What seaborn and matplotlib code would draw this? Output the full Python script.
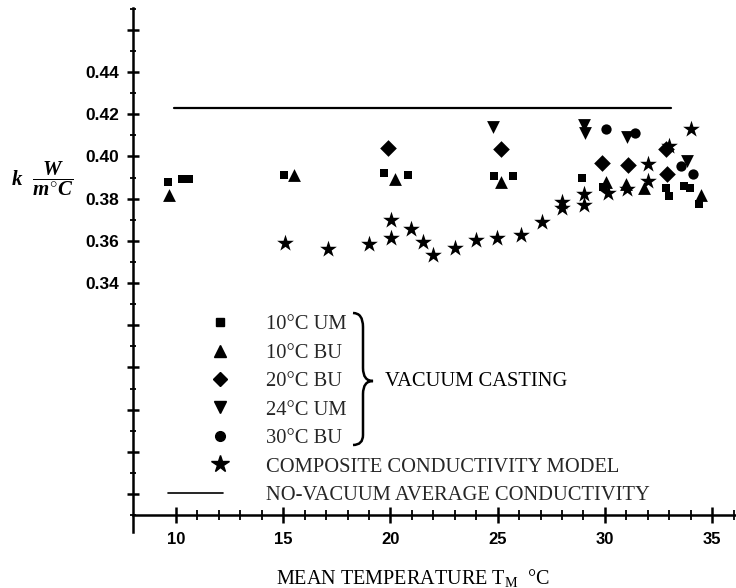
import numpy as np
import pandas as pd
import matplotlib
matplotlib.use("Agg")
import matplotlib.pyplot as plt
import seaborn as sns
from matplotlib.lines import Line2D
from matplotlib.legend_handler import HandlerLine2D
from matplotlib.path import Path
from matplotlib.patches import PathPatch
from matplotlib.ticker import FixedLocator, FuncFormatter

# ---------------- data ----------------
um10_T = [9.64, 10.3, 10.6, 15.05, 19.68, 20.8, 24.84, 25.72, 28.93, 29.89, 32.85, 33.0, 33.7, 33.95, 34.4]
um10_k = [0.3877, 0.3893, 0.3893, 0.3912, 0.3923, 0.3912, 0.3909, 0.3909, 0.3899, 0.3856, 0.3850, 0.3812, 0.3862, 0.3850, 0.3774]

bu10_T = [9.66, 15.5, 20.21, 25.15, 30.05, 31.0, 31.83, 34.48]
bu10_k = [0.3815, 0.3910, 0.3893, 0.3880, 0.3878, 0.3870, 0.3849, 0.3817]

bu20_T = [19.91, 25.15, 29.85, 31.1, 32.85, 32.9]
bu20_k = [0.4041, 0.4035, 0.3970, 0.3960, 0.4035, 0.3917]

um24_T = [24.76, 29.02, 29.05, 31.05, 33.85]
um24_k = [0.4141, 0.4147, 0.4110, 0.4090, 0.3980]

bu30_T = [30.05, 31.4, 33.55, 34.1]
bu30_k = [0.4130, 0.4110, 0.3955, 0.3917]

model_T = [15.1, 17.07, 19.01, 20.05, 20.02, 20.98, 21.5, 22.0, 23.0, 23.99, 24.99, 26.08,
           27.09, 28.02, 28.02, 29.04, 29.04, 30.15, 31.05, 32.0, 32.03, 33.0, 34.0]
model_k = [0.3588, 0.3560, 0.3585, 0.3699, 0.3612, 0.3655, 0.3596, 0.3533, 0.3564, 0.3604, 0.3612, 0.3627,
           0.3691, 0.3785, 0.3754, 0.3822, 0.3770, 0.3825, 0.3845, 0.3884, 0.3963, 0.4050, 0.4128]

novac_T = [9.93, 33.1]
novac_k = [0.4228, 0.4228]

labels = ["10°C UM", "10°C BU", "20°C BU", "24°C UM", "30°C BU",
          "COMPOSITE CONDUCTIVITY MODEL", "NO-VACUUM AVERAGE CONDUCTIVITY"]

x_major = [10, 15, 20, 25, 30, 35]
x_minor = list(range(10, 37))
y_major = [0.24, 0.26, 0.28, 0.30, 0.32, 0.34, 0.36, 0.38, 0.40, 0.42, 0.44, 0.46]
y_minor = [round(0.23 + 0.01 * i, 2) for i in range(25)]
y_labeled = [0.34, 0.36, 0.38, 0.40, 0.42, 0.44]

# ---------------- style ----------------
sns.set_theme(style="white")
plt.rcParams.update({
    "font.family": ["Liberation Serif", "DejaVu Serif"],
    "mathtext.fontset": "custom",
    "mathtext.rm": "Liberation Serif",
    "mathtext.it": "Liberation Serif:italic:bold",
    "mathtext.bf": "Liberation Serif:bold",
    "xtick.bottom": True, "ytick.left": True,
    "xtick.direction": "inout", "ytick.direction": "inout",
    "xtick.major.size": 12, "xtick.minor.size": 7,
    "ytick.major.size": 8, "ytick.minor.size": 5,
    "xtick.major.width": 1.8, "xtick.minor.width": 1.3,
    "ytick.major.width": 1.8, "ytick.minor.width": 1.3,
    "xtick.color": "black", "ytick.color": "black",
    "axes.axisbelow": False,
})

W, H = 736, 588
fig = plt.figure(figsize=(W / 100, H / 100), dpi=100)
fig.patch.set_facecolor("white")

xl = (8.0, 36.1)
yl = (0.222, 0.4705)
px_x = 21.45
px_y = 2110.0
left_px = 133
bottom_px = 532
ax = fig.add_axes([left_px / W, (H - bottom_px) / H,
                   (xl[1] - xl[0]) * px_x / W, (yl[1] - yl[0]) * px_y / H])
ax.set_facecolor("none")

series = [
    (um10_T, um10_k, "s", 38),
    (bu10_T, bu10_k, "^", 85),
    (bu20_T, bu20_k, "D", 72),
    (um24_T, um24_k, "v", 85),
    (bu30_T, bu30_k, "o", 55),
    (model_T, model_k, "*", 160),
]
for T, k, m, s in series:
    df = pd.DataFrame({"T": T, "k": k})
    sns.scatterplot(data=df, x="T", y="k", marker=m, s=s, color="black",
                    linewidth=0, ax=ax, legend=False, zorder=3)

sns.lineplot(x=novac_T, y=novac_k, color="black", linewidth=1.6, ax=ax,
             legend=False, zorder=2)

ax.set_xlim(*xl)
ax.set_ylim(*yl)

for sp in ["top", "right"]:
    ax.spines[sp].set_visible(False)
for sp in ["left", "bottom"]:
    ax.spines[sp].set_color("black")
    ax.spines[sp].set_linewidth(1.8)
ax.spines["bottom"].set_position(("data", 0.23))

ax.xaxis.set_major_locator(FixedLocator(x_major))
ax.xaxis.set_minor_locator(FixedLocator(x_minor))
ax.yaxis.set_major_locator(FixedLocator(y_major))
ax.yaxis.set_minor_locator(FixedLocator(y_minor))
ax.yaxis.set_major_formatter(FuncFormatter(
    lambda v, p: f"{v:.2f}" if any(abs(v - t) < 1e-6 for t in y_labeled) else ""))


def style_ticks():
    ax.tick_params(axis="x", which="major", direction="inout", length=12, width=1.8,
                   pad=6, labelsize=12, colors="black", bottom=True, labelbottom=True)
    ax.tick_params(axis="x", which="minor", direction="inout", length=7, width=1.3,
                   colors="black", bottom=True)
    ax.tick_params(axis="y", which="major", direction="inout", length=8, width=1.8,
                   pad=6, labelsize=12.5, colors="black", left=True, labelleft=True)
    ax.tick_params(axis="y", which="minor", direction="inout", length=5, width=1.3,
                   colors="black", left=True)
    for lab in ax.get_xticklabels() + ax.get_yticklabels():
        lab.set_family(["Liberation Sans", "DejaVu Sans"])
        lab.set_fontweight("bold")


style_ticks()
fig.canvas.draw()

ax.set_ylabel("")
ax.set_xlabel(r"MEAN TEMPERATURE T$_{\mathrm{M}}$  °C", fontsize=14.5, color="black")
ax.xaxis.label.set_va("center")
ax.xaxis.set_label_coords((413 - left_px) / ((xl[1] - xl[0]) * px_x),
                          (bottom_px - 578) / ((yl[1] - yl[0]) * px_y))
fig.canvas.draw()

fig.text(11 / W, 1 - 179 / H, r"$k\ \ \dfrac{W}{m^{\circ}C}$", fontsize=15,
         ha="left", va="center", color="black")
fig.canvas.draw()

# ---------------- legend ----------------
class OffsetHandler(HandlerLine2D):
    def __init__(self, dx=0.0, **kw):
        super().__init__(**kw)
        self.dx = dx

    def create_artists(self, legend, orig_handle, xdescent, ydescent, width,
                       height, fontsize, trans):
        return super().create_artists(legend, orig_handle, xdescent - self.dx,
                                      ydescent, width, height, fontsize, trans)

leg_fs = 14.8
fs_px = leg_fs / 0.72
leg_markers = [("s", 6), ("^", 8), ("D", 7), ("v", 8), ("o", 7), ("*", 13)]
handles = [Line2D([], [], marker=m, markersize=ms, color="black", ls="none")
           for m, ms in leg_markers]
handles.append(Line2D([], [], color="black", lw=1.2))
hmap = {h: OffsetHandler(dx=24.5 * 0.72, numpoints=1) for h in handles[:-1]}
leg = fig.legend(handles, labels, loc="upper left",
                 bbox_to_anchor=(168 / W, 1 - 315 / H), bbox_transform=fig.transFigure,
                 frameon=False, fontsize=leg_fs, handlelength=55 / fs_px,
                 handletextpad=43 / fs_px, labelspacing=0.44, borderpad=0,
                 borderaxespad=0, handler_map=hmap)
fig.canvas.draw()

# brace
def P(x, y):
    return (x / W, 1 - y / H)

verts = [P(353, 313), P(363, 313), P(363, 327),
         P(363, 368), P(363, 381), P(373, 381),
         P(363, 381), P(363, 394), P(363, 435),
         P(363, 445), P(353, 445)]
codes = [Path.MOVETO, Path.CURVE3, Path.CURVE3,
         Path.LINETO, Path.CURVE3, Path.CURVE3,
         Path.CURVE3, Path.CURVE3, Path.LINETO,
         Path.CURVE3, Path.CURVE3]
fig.add_artist(PathPatch(Path(verts, codes), transform=fig.transFigure,
                         fill=False, lw=1.8, edgecolor="black"))
fig.canvas.draw()
fig.text(385 / W, 1 - 381 / H, "VACUUM CASTING", fontsize=14.8,
         ha="left", va="center", color="black")


# ---------------- make sure the crossing tick marks are rendered ----------------
def ticks_drawn():
    fig.canvas.draw()
    a = np.asarray(fig.canvas.buffer_rgba())
    return a[500:512, 170:184, :3].min() < 100

if not ticks_drawn():
    style_ticks()
    ax.set_zorder(10)
    if not ticks_drawn():
        ax.tick_params(which="both", length=0)
        dy_maj = 6 / 0.72 / px_y * 0.72 * 100 / 72 * 0.72
        tr = ax.transData
        for xs, half in ((x_major, 8.5), (x_minor, 5.0)):
            for xv in xs:
                ax.plot([xv, xv], [0.23 - half / px_y, 0.23 + half / px_y],
                        color="black", lw=1.8 if half > 6 else 1.3,
                        clip_on=False, zorder=4)
        for ys, half in ((y_major, 5.5), (y_minor, 3.5)):
            for yv in ys:
                ax.plot([xl[0] - half / px_x, xl[0] + half / px_x], [yv, yv],
                        color="black", lw=1.8 if half > 4 else 1.3,
                        clip_on=False, zorder=4)
        ax.set_xlim(*xl)
        ax.set_ylim(*yl)

fig.canvas.draw()
fig.savefig("out.png", dpi=100, facecolor="white")
